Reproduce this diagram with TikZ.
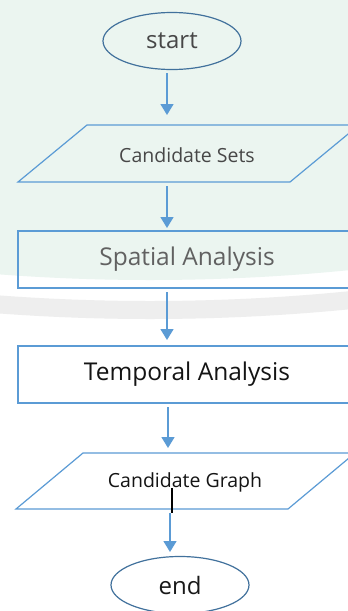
\documentclass[tikz,border=0pt]{standalone}
\usepackage{fontspec}
\setmainfont{Open Sans}
\usetikzlibrary{arrows.meta,shapes.geometric}
\definecolor{flowblue}{HTML}{5B9BD5}
\definecolor{ovalblue}{HTML}{41719C}
\definecolor{mint}{HTML}{EBF5F0}
\definecolor{ringgray}{HTML}{EEEEEE}
\begin{document}
\begin{tikzpicture}[x=1pt,y=-1pt,
  terminal/.style={ellipse, draw=ovalblue, line width=1.2pt, minimum width=138pt,
    minimum height=57pt, inner sep=0pt, font=\fontsize{24}{28}\selectfont},
  procbox/.style={rectangle, draw=flowblue, line width=1.2pt, minimum width=338pt,
    minimum height=57pt, inner sep=0pt, font=\fontsize{24.5}{28}\selectfont},
  iobox/.style={draw=flowblue, line width=1.2pt},
  iotext/.style={inner sep=0pt, font=\fontsize{19.5}{24}\selectfont},
  flow/.style={draw=flowblue, line width=1.5pt, -{Triangle[width=13pt,length=11pt]}}]
\useasboundingbox (0,0) rectangle (348,611);
\clip (0,0) rectangle (348,611);
% page background: tinted upper area bounded by a wide, faint grey arc
\fill[white] (0,0) rectangle (348,611);
\fill[mint] (150,-1700) circle (1980pt);
\draw[ringgray, line width=18pt] (150,-1700) circle (2010pt);

% terminals
\node[terminal, text=black!72] (start) at (172,41) {start};
\node[terminal, text=black!90] (stop) at (180,585) {end};

% input / output parallelograms
\draw[iobox] (87,125) -- (359,125) -- (290,182) -- (18,182) -- cycle;
\node[iotext, text=black!72] (sets) at (187,155) {Candidate Sets};
\draw[iobox] (83,453) -- (355,453) -- (288,509) -- (16,509) -- cycle;
\node[iotext, text=black!92] (graph) at (185,482) {Candidate Graph};

% process boxes
\node[procbox, text=black!62] (spatial) at (187,259.5) {Spatial Analysis};
\node[procbox, text=black!92] (temporal) at (187,374.5) {Temporal Analysis};

% connector end points
\coordinate (a1s) at (167,73);  \coordinate (a1e) at (167,115);
\coordinate (a2s) at (167,186); \coordinate (a2e) at (167,228);
\coordinate (a3s) at (167,292); \coordinate (a3e) at (167,340);
\coordinate (a4s) at (168,407); \coordinate (a4e) at (168,448);
\coordinate (tks) at (172,488); \coordinate (tke) at (172,513);
\coordinate (a5s) at (170,513); \coordinate (a5e) at (170,552);

\draw[flow] (a1s) -- (a1e);
\draw[flow] (a2s) -- (a2e);
\draw[flow] (a3s) -- (a3e);
\draw[flow] (a4s) -- (a4e);
\draw[black, line width=1.3pt] (tks) -- (tke);
\draw[flow] (a5s) -- (a5e);
\end{tikzpicture}
\end{document}
